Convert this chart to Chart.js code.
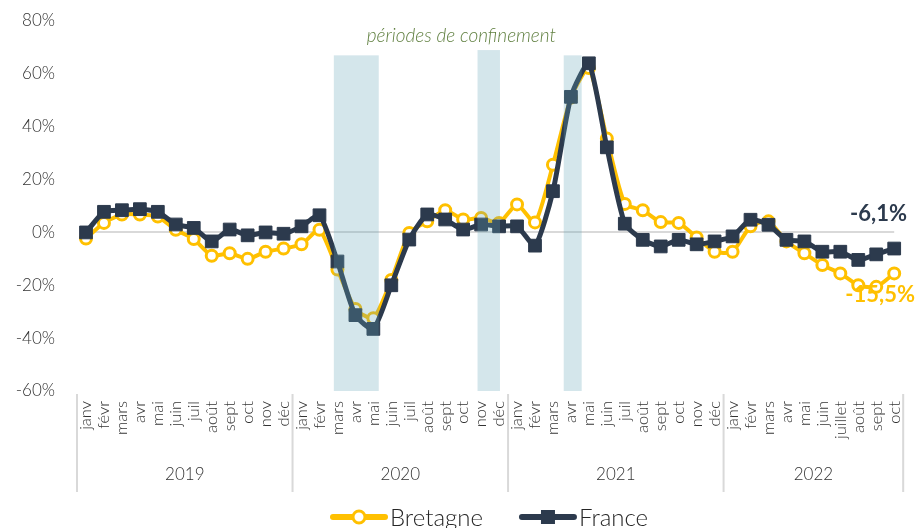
<!DOCTYPE html>
<html lang="fr">
<head>
<meta charset="utf-8">
<script src="https://cdn.jsdelivr.net/npm/chart.js@4"></script>
<style>
  html, body { margin: 0; padding: 0; background: #fff; }
</style>
</head>
<body>
<canvas id="chart" width="916" height="528"></canvas>
<script>
// données : évolution mensuelle en %, janv 2019 -> oct 2022
const years = ['2019', '2020', '2021', '2022'];
const months = ['janv', 'févr', 'mars', 'avr', 'mai', 'juin', 'juil', 'août', 'sept', 'oct', 'nov', 'déc'];
const months2022 = ['janv', 'févr', 'mars', 'avr', 'mai', 'juin', 'juillet', 'août', 'sept', 'oct'];
const labels = [...months, ...months, ...months, ...months2022];
const yearSizes = [months.length, months.length, months.length, months2022.length];

const bretagne = [
  -2.3, 3.6, 6.8, 6.8, 6.0, 1.0, -2.5, -8.8, -7.9, -10.0, -7.3, -6.1,
  -4.5, 1.0, -14.0, -29.0, -32.5, -18.0, -0.2, 4.2, 8.4, 4.9, 5.5, 3.6,
  10.6, 3.8, 25.6, 51.0, 62.2, 35.5, 10.8, 8.4, 3.9, 3.6, -1.9, -7.3,
  -7.3, 2.3, 4.2, -3.4, -7.9, -12.3, -15.5, -20.0, -20.6, -15.5
];
const france = [
  0.0, 7.8, 8.4, 8.8, 7.8, 3.0, 1.7, -3.4, 1.1, -1.1, 0.0, -0.5,
  2.3, 6.5, -11.0, -31.3, -36.5, -20.0, -2.7, 6.8, 4.9, 1.1, 3.0, 2.3,
  2.3, -5.0, 15.6, 51.3, 64.0, 32.2, 3.3, -2.8, -5.3, -2.8, -4.5, -3.4,
  -1.5, 4.8, 2.9, -2.8, -3.4, -7.3, -7.3, -10.4, -8.3, -6.1
];

// périodes de confinement : position sur l'axe des mois (index), haut en %
const confinements = [
  { from: 13.8, to: 16.3, top: 67 },
  { from: 21.8, to: 23.05, top: 69 },
  { from: 26.6, to: 27.6, top: 67 }
];
const confinementText = 'périodes de confinement';

const FONT = 'Lato, "Open Sans", sans-serif';
const YELLOW = '#FFC000';
const DARK = '#2C3A4D';

const fmt = v => v.toFixed(1).replace('.', ',') + '%';

const decor = {
  id: 'decor',
  afterDatasetsDraw(chart) {
    const { ctx, chartArea, scales: { x, y } } = chart;
    ctx.save();
    ctx.fillStyle = 'rgba(100,164,182,0.28)';
    confinements.forEach(c => {
      const x0 = x.getPixelForValue(c.from);
      const x1 = x.getPixelForValue(c.to);
      const top = y.getPixelForValue(c.top);
      ctx.fillRect(x0, top, x1 - x0, chartArea.bottom - top);
    });

    // texte au-dessus des zones
    ctx.font = 'italic 300 19px ' + FONT;
    ctx.fillStyle = '#5f7f3f';
    ctx.textAlign = 'center';
    ctx.textBaseline = 'middle';
    ctx.fillText(confinementText, x.getPixelForValue(20.9), chartArea.top + 15);

    // valeurs finales
    const last = labels.length - 1;
    ctx.font = 'bold 22px ' + FONT;
    ctx.textAlign = 'right';
    ctx.fillStyle = DARK;
    ctx.fillText(fmt(france[last]), chart.width - 9, y.getPixelForValue(france[last]) - 35);
    ctx.fillStyle = YELLOW;
    ctx.fillText(fmt(bretagne[last]), chart.width - 1, y.getPixelForValue(bretagne[last]) + 22);
    ctx.restore();
  },
  afterDraw(chart) {
    const { ctx, scales: { x } } = chart;
    ctx.save();
    // séparateurs et années
    ctx.strokeStyle = '#d9d9d9';
    ctx.lineWidth = 2;
    ctx.font = '300 17px ' + FONT;
    ctx.fillStyle = '#333';
    ctx.textAlign = 'center';
    ctx.textBaseline = 'middle';
    let start = 0;
    const edge = i => x.getPixelForValue(i - 0.5);
    ctx.beginPath();
    ctx.moveTo(edge(0), x.top + 3);
    ctx.lineTo(edge(0), x.top + 101);
    years.forEach((yr, k) => {
      const end = start + yearSizes[k];
      ctx.moveTo(edge(end), x.top + 3);
      ctx.lineTo(edge(end), x.top + 101);
      ctx.fillText(yr, (edge(start) + edge(end)) / 2, x.top + 84);
      start = end;
    });
    ctx.stroke();

    // légende
    let lx = 330;
    const ly = chart.height - 11;
    chart.data.datasets.forEach(ds => {
      ctx.strokeStyle = ds.borderColor;
      ctx.lineWidth = 6;
      ctx.lineCap = 'round';
      ctx.beginPath();
      ctx.moveTo(lx + 3, ly);
      ctx.lineTo(lx + 55, ly);
      ctx.stroke();
      if (ds.pointStyle === 'circle') {
        ctx.beginPath();
        ctx.arc(lx + 29, ly, 6, 0, Math.PI * 2);
        ctx.fillStyle = '#fff';
        ctx.fill();
        ctx.lineWidth = 3;
        ctx.stroke();
      } else {
        ctx.fillStyle = ds.borderColor;
        ctx.fillRect(lx + 22, ly - 7, 14, 14);
      }
      ctx.font = '300 24px ' + FONT;
      ctx.fillStyle = '#262626';
      ctx.textAlign = 'left';
      ctx.textBaseline = 'alphabetic';
      ctx.fillText(ds.label, lx + 60, chart.height - 2);
      lx += 60 + ctx.measureText(ds.label).width + 36;
    });
    ctx.restore();
  }
};

new Chart(document.getElementById('chart'), {
  type: 'line',
  data: {
    labels: labels,
    datasets: [
      {
        label: 'Bretagne',
        data: bretagne,
        borderColor: YELLOW,
        borderWidth: 4,
        pointStyle: 'circle',
        pointRadius: 5.5,
        pointBackgroundColor: '#fff',
        pointBorderColor: YELLOW,
        pointBorderWidth: 3,
        tension: 0.2,
        order: 1
      },
      {
        label: 'France',
        data: france,
        borderColor: DARK,
        borderWidth: 5,
        pointStyle: 'rect',
        pointRadius: 9,
        pointBackgroundColor: DARK,
        pointBorderColor: DARK,
        pointBorderWidth: 1,
        tension: 0.2,
        order: 0
      }
    ]
  },
  options: {
    responsive: false,
    animation: false,
    devicePixelRatio: 1,
    layout: { padding: { top: 21, right: 11, bottom: 32, left: 0 } },
    plugins: {
      legend: { display: false },
      tooltip: { enabled: false }
    },
    scales: {
      x: {
        grid: { display: false },
        border: { display: false },
        ticks: {
          autoSkip: false,
          maxRotation: 90,
          minRotation: 90,
          padding: 2,
          color: '#333',
          font: { family: FONT, size: 16.5, weight: 300 }
        },
        afterFit: s => { s.height = 105; }
      },
      y: {
        min: -60,
        max: 80,
        border: { display: false },
        grid: {
          drawTicks: false,
          lineWidth: 2,
          color: c => c.tick.value === 0 ? '#d9d9d9' : 'transparent'
        },
        ticks: {
          stepSize: 20,
          padding: 31,
          color: '#333',
          font: { family: FONT, size: 17, weight: 300 },
          callback: v => v + '%'
        },
        afterFit: s => {
          s.width = 86;
          s.paddingTop = 0;
          s.paddingBottom = 0;
        }
      }
    }
  },
  plugins: [decor]
});
</script>
</body>
</html>
